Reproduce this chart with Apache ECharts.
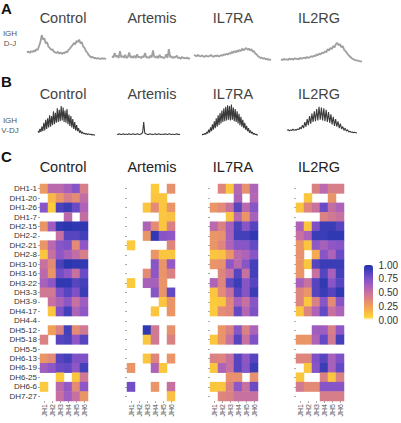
<!DOCTYPE html>
<html>
<head>
<meta charset="utf-8">
<script src="https://cdn.jsdelivr.net/npm/echarts@6/dist/echarts.min.js"></script>
<style>
  html, body { margin: 0; padding: 0; background: #fff; }
  #chart { width: 401px; height: 423px; }
</style>
</head>
<body>
<div id="chart"></div>
<script>
const samples = ['Control', 'Artemis', 'IL7RA', 'IL2RG'];
const jhGenes = ['JH1', 'JH2', 'JH3', 'JH4', 'JH5', 'JH6'];
const dhGenes = ['DH1-1', 'DH1-20', 'DH1-26', 'DH1-7', 'DH2-15', 'DH2-2', 'DH2-21', 'DH2-8',
  'DH3-10', 'DH3-16', 'DH3-22', 'DH3-3', 'DH3-9', 'DH4-17', 'DH4-4', 'DH5-12', 'DH5-18',
  'DH5-5', 'DH6-13', 'DH6-19', 'DH6-25', 'DH6-6', 'DH7-27'];
const legendTicks = [0, 0.25, 0.5, 0.75, 1];

// panel A: IGH D-J traces
const djControl = [30, 33, 28, 34, 31, 36, 33, 40, 38, 50, 62, 84, 70, 74, 58, 62, 48, 44, 38, 40,
  33, 30, 28, 32, 26, 30, 25, 29, 27, 33, 30, 38, 42, 48, 52, 60, 55, 66, 62, 70,
  58, 62, 48, 44, 34, 30, 22, 18, 14, 16, 12, 13, 10, 12, 11, 9, 12, 10, 11, 9];
const djArtemis = [18, 14, 28, 16, 20, 12, 34, 15, 18, 14, 22, 12, 16, 30, 14, 18, 13, 20, 12, 24,
  14, 16, 12, 18, 15, 28, 13, 16, 12, 20, 14, 36, 16, 14, 18, 12, 22, 14, 16, 12,
  14, 24, 13, 40, 15, 18, 12, 16, 14, 20, 12, 14, 10, 16, 12, 13, 11, 14, 10, 12];
const djIL7RA = [22, 20, 18, 22, 19, 17, 21, 18, 16, 20, 18, 17, 19, 22, 18, 16, 20, 18, 21, 17,
  19, 22, 20, 24, 22, 26, 23, 28, 26, 32, 28, 34, 30, 36, 32, 38, 34, 42, 36, 40,
  44, 38, 42, 36, 40, 32, 34, 26, 24, 18, 16, 12, 14, 10, 12, 8, 10, 7, 8, 6];
const djIL2RG = [8, 6, 10, 7, 9, 6, 11, 8, 10, 7, 12, 9, 11, 8, 13, 10, 12, 14, 11, 16,
  13, 15, 18, 16, 20, 18, 24, 21, 26, 24, 30, 27, 34, 30, 40, 36, 44, 40, 50, 46,
  56, 60, 52, 56, 46, 50, 38, 34, 28, 22, 18, 14, 10, 8, 6, 5, 4, 3, 2, 1];

// panel B: IGH V-DJ traces
const vdjControl = [18, 14, 24, 16, 30, 18, 40, 20, 48, 24, 52, 28, 60, 30, 58, 34, 70, 36, 66, 40,
  78, 42, 74, 44, 84, 46, 80, 42, 72, 40, 76, 36, 62, 32, 58, 28, 50, 24, 42, 20,
  34, 18, 26, 14, 20, 12, 16, 11, 13, 10, 12, 9, 11, 10, 9, 10, 8, 9, 8, 7];
const vdjArtemis = [10, 9, 11, 10, 9, 10, 11, 9, 10, 10, 9, 11, 10, 9, 10, 11, 10, 9, 10, 11,
  10, 9, 10, 12, 14, 42, 13, 11, 10, 9, 10, 11, 10, 9, 10, 10, 11, 9, 10, 11,
  10, 9, 10, 10, 9, 11, 10, 9, 10, 11, 10, 9, 10, 10, 9, 10, 11, 9, 10, 9];
const vdjIL7RA = [8, 10, 9, 12, 10, 16, 12, 22, 14, 28, 18, 36, 22, 44, 26, 52, 30, 60, 34, 66,
  38, 72, 42, 78, 44, 82, 46, 86, 48, 84, 46, 88, 48, 80, 44, 76, 42, 70, 38, 64,
  34, 56, 30, 48, 26, 40, 22, 32, 18, 26, 14, 20, 12, 16, 10, 12, 9, 10, 8, 8];
const vdjIL2RG = [20, 22, 19, 21, 20, 23, 20, 22, 21, 24, 22, 28, 24, 34, 26, 42, 30, 50, 34, 58,
  38, 64, 42, 70, 44, 76, 46, 82, 48, 80, 46, 78, 44, 74, 42, 68, 40, 62, 36, 56,
  32, 50, 30, 44, 26, 38, 24, 30, 20, 26, 18, 22, 16, 18, 15, 16, 14, 15, 14, 13];

// panel C: DH x JH usage (rows = dhGenes, columns = jhGenes), null = no cell
const heatControl = [
  [0.28, 0.55, 0.55, 0.62, 0.72, 0.42],
  [null, 0.15, 0.30, 0.42, 0.35, 0.52],
  [0.72, 0.08, 0.88, 0.92, 0.80, 0.60],
  [null, null, null, 0.55, null, 0.52],
  [0.30, 0.65, 0.95, 0.97, 0.95, 0.95],
  [null, null, 0.50, 0.85, 0.85, 0.90],
  [0.30, 0.55, 0.72, 0.75, 0.35, 0.70],
  [0.10, 0.50, 0.70, 0.62, 0.52, 0.42],
  [0.50, 0.35, 0.88, 0.97, 0.95, 0.95],
  [0.55, 0.30, 0.78, 0.70, 0.50, 0.80],
  [0.62, 0.70, 0.95, 0.95, 0.85, 0.90],
  [0.45, 0.45, 0.75, 0.85, 0.75, 0.92],
  [null, 0.50, 0.60, 0.70, 0.50, 0.65],
  [null, 0.10, 0.75, 0.90, 0.60, 0.70],
  [null, null, null, null, null, null],
  [null, 0.25, 0.40, 0.90, 0.35, 0.45],
  [0.40, null, 0.85, 0.88, 0.70, 0.85],
  [null, null, null, null, null, null],
  [0.30, 0.35, 0.85, 0.90, 0.75, 0.75],
  [0.65, 0.70, 0.80, 0.82, 0.70, 0.90],
  [null, null, 0.08, null, 0.10, 0.45],
  [0.08, null, 0.55, 0.68, 0.35, 0.70],
  [null, null, 0.50, 0.65, 0.50, 0.30]
];
const heatArtemis = [
  [null, null, null, 0.08, null, 0.32],
  [null, null, null, 0.10, 0.10, null],
  [null, null, 0.10, 0.35, 0.10, 0.30],
  [null, null, null, null, 0.10, 0.12],
  [null, null, 0.60, 0.35, 0.10, 0.40],
  [null, null, 0.30, 0.95, 0.72, 0.70],
  [0.08, null, null, null, null, 0.38],
  [null, null, null, 0.30, 0.10, 0.10],
  [null, null, null, 0.72, 0.30, 0.68],
  [null, null, 0.35, 0.70, 0.30, 0.40],
  [0.08, null, 0.62, 0.62, 0.30, null],
  [null, null, null, 0.72, 0.30, 0.82],
  [null, null, null, null, 0.10, 0.30],
  [null, null, null, 0.10, null, 0.30],
  [null, null, null, null, null, null],
  [null, null, 0.95, 0.45, null, 0.32],
  [null, null, 0.10, 0.45, null, 0.40],
  [null, null, null, null, null, null],
  [null, null, 0.10, 0.38, null, 0.30],
  [0.30, null, null, 0.60, 0.10, null],
  [null, null, null, null, null, null],
  [0.78, null, null, 0.30, null, 0.50],
  [null, null, null, null, null, 0.12]
];
const heatIL7RA = [
  [null, 0.38, 0.10, 0.58, 0.32, 0.60],
  [null, null, null, 0.60, null, 0.58],
  [0.30, 0.35, 0.50, 0.85, 0.55, 0.72],
  [null, null, 0.10, 0.55, 0.30, 0.62],
  [0.55, 0.40, 0.62, 0.88, 0.72, 0.85],
  [0.30, 0.32, 0.62, 0.90, 0.90, 0.95],
  [0.30, 0.38, 0.60, 0.72, 0.72, 0.82],
  [0.10, 0.12, 0.30, 0.55, 0.60, 0.72],
  [0.30, 0.32, 0.70, 0.55, 0.72, 0.90],
  [null, 0.38, 0.50, 0.85, 0.50, 0.90],
  [0.60, 0.38, 0.82, 0.92, 0.72, 0.85],
  [0.10, 0.35, 0.50, 0.85, 0.72, 0.92],
  [0.08, 0.10, 0.38, 0.62, 0.50, 0.72],
  [0.08, 0.35, 0.38, 0.82, 0.58, 0.75],
  [null, null, null, null, null, null],
  [null, 0.30, 0.40, 0.72, 0.40, 0.60],
  [0.10, 0.30, 0.50, 0.85, 0.50, 0.75],
  [null, null, null, null, null, null],
  [0.40, 0.38, 0.50, 0.85, 0.70, 0.85],
  [0.10, 0.60, 0.50, 0.85, 0.72, 0.92],
  [null, null, 0.32, 0.32, null, 0.32],
  [0.10, 0.10, 0.40, 0.70, 0.50, 0.80],
  [null, 0.38, 0.40, 0.50, 0.50, 0.50]
];
const heatIL2RG = [
  [null, null, 0.40, 0.55, 0.42, 0.42],
  [null, 0.10, null, null, 0.30, null],
  [0.10, 0.38, 0.50, 0.80, 0.52, 0.60],
  [null, null, null, 0.40, 0.45, 0.50],
  [0.60, 0.10, 0.75, 0.92, 0.92, 0.85],
  [0.50, 0.60, 0.92, 0.92, 0.95, 0.95],
  [0.30, 0.10, 0.70, 0.62, 0.70, 0.72],
  [0.32, null, 0.20, 0.72, 0.60, 0.80],
  [0.30, 0.10, 0.85, 0.92, 0.92, 0.92],
  [0.30, null, 0.50, 0.85, 0.62, 0.90],
  [0.62, 0.50, 0.85, 0.95, 0.72, 0.85],
  [0.38, 0.30, 0.85, 0.92, 0.85, 0.95],
  [0.38, 0.10, 0.40, 0.72, 0.35, 0.72],
  [0.10, 0.38, 0.60, 0.82, 0.50, 0.60],
  [null, null, null, null, null, null],
  [null, null, 0.65, 0.65, 0.42, 0.70],
  [0.30, 0.30, 0.60, 0.82, 0.45, 0.90],
  [null, null, null, null, null, null],
  [0.38, 0.38, 0.75, 0.85, 0.62, 0.75],
  [null, 0.10, 0.72, 0.92, 0.62, 0.82],
  [0.10, null, null, 0.40, 0.10, 0.40],
  [0.45, 0.35, 0.35, 0.72, 0.72, 0.72],
  [null, null, null, 0.42, 0.42, 0.42]
];

const djTraces = [djControl, djArtemis, djIL7RA, djIL2RG];
const vdjTraces = [vdjControl, vdjArtemis, vdjIL7RA, vdjIL2RG];
const heats = [heatControl, heatArtemis, heatIL7RA, heatIL2RG];

// layout
const titleX = [63, 152, 233, 319];
const djBox = [[27, 79], [112, 78], [194, 77], [281, 81]];
const vdjBox = [[38, 57], [117, 63], [202, 56], [287, 70]];
const heatLeft = [40, 127, 210, 296];

const chart = echarts.init(document.getElementById('chart'), null, {renderer: 'svg'});

const grid = [], xAxis = [], yAxis = [], series = [];

function addTrace(values, box, top, height, color, width) {
  const gi = grid.length;
  grid.push({left: box[0], width: box[1], top: top, height: height});
  xAxis.push({gridIndex: gi, type: 'value', min: 0, max: values.length - 1, show: false});
  yAxis.push({gridIndex: gi, type: 'value', min: 0, max: 100, show: false});
  series.push({
    type: 'line', xAxisIndex: gi, yAxisIndex: gi, symbol: 'none', silent: true,
    data: values.map((v, i) => [i, v]),
    lineStyle: {color: color, width: width}
  });
}

djTraces.forEach((t, k) => addTrace(t, djBox[k], 30, 32, '#a0a0a0', 1.8));
vdjTraces.forEach((t, k) => addTrace(t, vdjBox[k], 100, 38, '#3a3a3a', 1.1));

const heatSeriesIdx = [];
heats.forEach((rows, k) => {
  const gi = grid.length;
  grid.push({left: heatLeft[k], width: 48, top: 184, height: 217});
  xAxis.push({
    gridIndex: gi, type: 'category', data: jhGenes, position: 'bottom',
    axisLine: {show: false},
    axisTick: {show: true, length: 2, alignWithLabel: true, interval: 0, lineStyle: {color: '#aaa'}},
    axisLabel: {interval: 0, rotate: 90, fontSize: 7, color: '#555', margin: 3, fontFamily: 'Liberation Sans'},
    splitLine: {show: false}
  });
  yAxis.push({
    gridIndex: gi, type: 'category', data: dhGenes, inverse: true,
    axisLine: {show: false},
    axisTick: {show: true, length: 2, alignWithLabel: true, interval: 0, lineStyle: {color: '#aaa'}},
    axisLabel: {show: k === 0, interval: 0, fontSize: 8, color: '#333', margin: 3, fontFamily: 'Liberation Sans'},
    splitLine: {show: false}
  });
  const data = [];
  rows.forEach((row, r) => row.forEach((v, c) => {
    if (v !== null) data.push([c, r, v]);
  }));
  heatSeriesIdx.push(series.length);
  series.push({
    type: 'heatmap', xAxisIndex: gi, yAxisIndex: gi, data: data, silent: true,
    itemStyle: {borderWidth: 0}, emphasis: {disabled: true}
  });
});

// colour bar axis
const lg = grid.length;
grid.push({left: 364, width: 9, top: 265, height: 55});
xAxis.push({gridIndex: lg, type: 'value', show: false});
yAxis.push({
  gridIndex: lg, type: 'value', position: 'right', min: legendTicks[0], max: legendTicks[4],
  interval: legendTicks[1] - legendTicks[0],
  axisLine: {show: false}, axisTick: {show: false}, splitLine: {show: false},
  axisLabel: {fontSize: 10, color: '#333', margin: 7, fontFamily: 'Liberation Sans',
    formatter: v => v.toFixed(2)}
});

const graphic = [];
[['A', 9], ['B', 82], ['C', 157]].forEach(p => graphic.push({
  type: 'text', left: 1, top: p[1] - 8,
  style: {text: p[0], font: 'bold 15px "Liberation Sans"', fill: '#111'}
}));
[18, 94].forEach(y => samples.forEach((s, k) => graphic.push({
  type: 'text', x: titleX[k], y: y,
  style: {text: s, font: '14.5px "Liberation Sans"', fill: '#444', textAlign: 'center', textVerticalAlign: 'middle'}
})));
samples.forEach((s, k) => graphic.push({
  type: 'text', x: titleX[k], y: 167,
  style: {text: s, font: '14.5px "Liberation Sans"', fill: '#222', textAlign: 'center', textVerticalAlign: 'middle'}
}));
[[33, 'IGH'], [43, 'D-J'], [120, 'IGH'], [130, 'V-DJ']].forEach(p => graphic.push({
  type: 'text', x: 10, y: p[0],
  style: {text: p[1], font: '8px "Liberation Sans"', fill: '#555', textAlign: 'center', textVerticalAlign: 'middle'}
}));

chart.setOption({
  animation: false,
  backgroundColor: '#fff',
  grid: grid,
  xAxis: xAxis,
  yAxis: yAxis,
  visualMap: {
    type: 'continuous', min: 0, max: 1, seriesIndex: heatSeriesIdx,
    left: 364, top: 265, padding: 0, itemWidth: 9, itemHeight: 55,
    calculable: false, hoverLink: false,
    inRange: {color: ['#ffffff', '#fdd33a', '#fbc63f', '#f8b848', '#f4aa52', '#f0a05a',
      '#ea9568', '#e38b76', '#da8184', '#d07992', '#c6719f', '#ba6aac', '#ad63b7',
      '#9e5dbf', '#8e57c5', '#7e51c7', '#6b4bc5', '#5745c0', '#4340b9', '#3039b1', '#2232a6']}
  },
  graphic: graphic,
  series: series
});
</script>
</body>
</html>
